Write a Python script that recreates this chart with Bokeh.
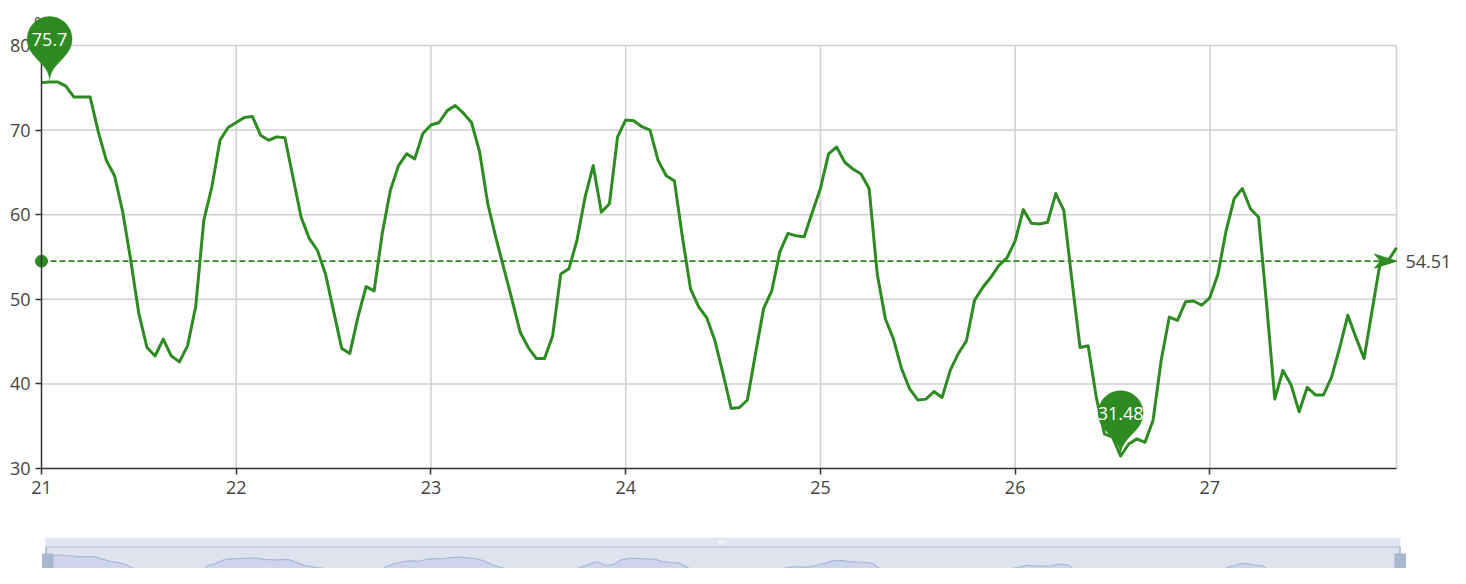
import math
import numpy as np
from bokeh.plotting import figure
from bokeh.layouts import column
from bokeh.models import Range1d, FixedTicker, PolyAnnotation, Label
from bokeh.core.properties import value
from bokeh.embed import file_html
from bokeh.resources import INLINE

# ---------------- data ----------------
hours = list(range(168))
humidity = [
    75.6, 75.7, 75.7, 75.2, 73.9, 73.9, 73.9, 69.8, 66.4, 64.6,
    60.4, 54.6, 48.3, 44.3, 43.3, 45.3, 43.3, 42.6, 44.5, 49.1,
    59.3, 63.3, 68.8, 70.3, 70.9, 71.5, 71.6, 69.4, 68.8, 69.2,
    69.1, 64.4, 59.7, 57.2, 55.8, 53.0, 48.6, 44.2, 43.6, 47.9,
    51.5, 51.0, 57.8, 62.9, 65.8, 67.2, 66.6, 69.6, 70.6, 70.9,
    72.3, 72.9, 72.0, 70.9, 67.4, 61.3, 57.3, 53.6, 49.9, 46.1,
    44.3, 43.0, 43.0, 45.7, 53.0, 53.6, 57.0, 62.1, 65.8, 60.3,
    61.3, 69.2, 71.2, 71.1, 70.4, 70.0, 66.4, 64.6, 64.0, 57.3,
    51.2, 49.1, 47.8, 45.1, 41.2, 37.1, 37.2, 38.1, 43.6, 48.9,
    51.0, 55.6, 57.8, 57.5, 57.4, 60.3, 63.1, 67.2, 68.0, 66.2,
    65.4, 64.8, 63.1, 53.0, 47.7, 45.3, 41.8, 39.4, 38.1, 38.2,
    39.1, 38.4, 41.6, 43.6, 45.1, 49.9, 51.4, 52.6, 54.0, 54.9,
    56.9, 60.6, 59.0, 58.9, 59.1, 62.5, 60.5, 52.2, 44.3, 44.5,
    38.4, 34.1, 33.7, 31.48, 32.9, 33.5, 33.1, 35.7, 42.8, 47.9,
    47.5, 49.7, 49.8, 49.3, 50.2, 53.0, 58.1, 61.9, 63.1, 60.7,
    59.7, 49.3, 38.2, 41.6, 39.9, 36.7, 39.6, 38.7, 38.7, 40.8,
    44.3, 48.1, 45.5, 43.0, 48.7, 54.4, 54.6, 56.1,
]
day_ticks = [0, 24, 48, 72, 96, 120, 144]
day_labels = ["21", "22", "23", "24", "25", "26", "27"]
y_ticks = [30, 40, 50, 60, 70, 80]
unit_label = "%"
avg_value = 54.51

# ---------------- styles ----------------
GREEN = "#2e8b22"
FONT = "Open Sans"
TXT = "#444444"
GRID = "#d0d0d0"

W = 1450
H1 = 537
AX_X = 41            # pixel column of the y axis
AX_Y = 468           # pixel row of the x axis
sx = 1355.0 / (hours[-1] - hours[0])     # px per hour
sy = 423.0 / (y_ticks[-1] - y_ticks[0])  # px per %

p = figure(width=W, height=H1, output_backend="svg", toolbar_location=None,
           x_range=Range1d(hours[0] - AX_X / sx, hours[0] + (W - AX_X) / sx),
           y_range=Range1d(y_ticks[0] - (H1 - AX_Y) / sy, y_ticks[0] + AX_Y / sy),
           min_border=0)
p.outline_line_color = None
p.grid.visible = False
p.background_fill_color = "white"
p.border_fill_color = "white"

for ax in (p.xaxis[0], p.yaxis[0]):
    ax.axis_line_color = "#333333"
    ax.axis_line_width = 1.5
    ax.major_tick_line_color = "#333333"
    ax.major_tick_line_width = 1.5
    ax.major_tick_out = 6
    ax.major_tick_in = 0
    ax.minor_tick_line_color = None
    ax.major_label_text_font = FONT
    ax.major_label_text_font_size = "18px"
    ax.major_label_text_color = TXT

p.xaxis.ticker = FixedTicker(ticks=day_ticks)
p.xaxis.major_label_overrides = {t: l for t, l in zip(day_ticks, day_labels)}
p.xaxis.bounds = (hours[0], hours[-1])
p.xaxis.major_label_standoff = 6
p.xaxis.fixed_location = y_ticks[0]
p.yaxis.ticker = FixedTicker(ticks=y_ticks)
p.yaxis.bounds = (y_ticks[0], y_ticks[-1])
p.yaxis.major_label_standoff = 5
p.yaxis.fixed_location = hours[0]

# grid lines
gy = y_ticks[1:]
p.segment(x0=[hours[0]] * len(gy), x1=[hours[-1]] * len(gy), y0=gy, y1=gy,
          line_color=GRID, line_width=1.5)
gx = day_ticks[1:] + [hours[-1]]
p.segment(x0=gx, x1=gx, y0=[y_ticks[0]] * len(gx), y1=[y_ticks[-1]] * len(gx),
          line_color=GRID, line_width=1.5)

# series
p.line(hours, humidity, line_color=GREEN, line_width=3, line_join="round")

# average mark line
p.line([hours[0], hours[-1]], [avg_value, avg_value], line_color=GREEN,
       line_width=1.6, line_dash="6 3")
p.scatter([hours[0]], [avg_value], size=12, marker="circle", fill_color=GREEN,
          line_color=GREEN)
arrow_px = [(0, 0), (-22, -7), (-16, 0), (-22, 7)]
p.patch([hours[-1] + ax_ / sx for ax_, ay_ in arrow_px],
        [avg_value - ay_ / sy for ax_, ay_ in arrow_px],
        fill_color=GREEN, line_color=GREEN, line_width=1)
p.text(x=[hours[-1] + 9 / sx], y=[avg_value], text=[f"{avg_value:.2f}"],
       text_font=value(FONT), text_font_size=value("18px"), text_color=TXT,
       text_align="left", text_baseline="middle")

# axis name (drawn under the max pin)
p.add_layout(Label(x=hours[0], y=y_ticks[-1] + 23 / sy, text=unit_label,
                   text_font=FONT, text_font_size="18px", text_color=TXT,
                   text_align="center", text_baseline="middle"))


# pins for max / min
def pin(x0, y0, w=45.0, h=75.0):
    r = w / 2
    dy = r * r / (h - r)
    cy = -h + r + dy
    ang = math.asin(dy / r)
    dx = math.cos(ang) * r
    tx, ty = math.sin(ang), math.cos(ang)
    c1, c2 = r * 0.6, r * 0.7
    pts = []
    for t in np.linspace(math.pi - ang, 2 * math.pi + ang, 60):
        pts.append((r * math.cos(t), cy + r * math.sin(t)))

    def bez(P0, P1, P2, P3, n=20):
        out = []
        for t in np.linspace(0, 1, n):
            a = (1 - t) ** 3
            b = 3 * (1 - t) ** 2 * t
            c = 3 * (1 - t) * t ** 2
            d = t ** 3
            out.append((a * P0[0] + b * P1[0] + c * P2[0] + d * P3[0],
                        a * P0[1] + b * P1[1] + c * P2[1] + d * P3[1]))
        return out
    pts += bez((dx, cy + dy), (dx - tx * c1, cy + dy + ty * c1), (0, -c2), (0, 0))
    pts += bez((0, 0), (0, -c2), (-dx + tx * c1, cy + dy + ty * c1), (-dx, cy + dy))
    xs = [float(x0 + px / sx) for px, py in pts]
    ys = [float(y0 - py / sy) for px, py in pts]
    return xs, ys, y0 - cy / sy


arr = np.array(humidity)
for idx in (int(np.argmax(arr)), int(np.argmin(arr))):
    xs, ys, ly = pin(hours[idx], humidity[idx])
    p.add_layout(PolyAnnotation(xs=xs, ys=ys, xs_units="data", ys_units="data",
                                fill_color=GREEN, fill_alpha=1.0,
                                line_color=GREEN, line_width=1))
    p.add_layout(Label(x=hours[idx], y=float(ly), text=f"{humidity[idx]:g}",
                       text_font=FONT, text_font_size="18px", text_color="white",
                       text_align="center", text_baseline="middle"))

# ---------------- data zoom slider ----------------
H2 = 568 - H1
sx2 = 1355.0 / (hours[-1] - hours[0])
lo, hi = float(arr.min()), float(arr.max())
off = (hi - lo) * 0.3
ext0, ext1 = lo - off, hi + off
body_top = 546.5
sy2 = 45.0 / (ext1 - ext0)


def wx(px):
    return (px - 45) / sx2


def wy(py):
    return ext1 - (py - body_top) / sy2


s = figure(width=W, height=H2, output_backend="svg", toolbar_location=None,
           x_range=Range1d(wx(0), wx(W)),
           y_range=Range1d(wy(H1 + H2), wy(H1)),
           min_border=0)
s.axis.visible = False
s.grid.visible = False
s.outline_line_color = None
s.background_fill_color = "white"
s.border_fill_color = "white"

s.quad(left=[wx(45)], right=[wx(1400)], top=[wy(537)], bottom=[wy(body_top)],
       fill_color="#dfe5f2", line_color=None)
s.quad(left=[wx(45)], right=[wx(1400)], top=[wy(body_top)], bottom=[wy(600)],
       fill_color="#dee3ee", line_color=None)
s.varea(x=hours, y1=[wy(600)] * len(hours), y2=humidity, fill_color="#ccd5ea")
s.line(hours, humidity, line_color="#a9b9dc", line_width=1.2)
s.segment(x0=[wx(45)], x1=[wx(1400)], y0=[wy(body_top)], y1=[wy(body_top)],
          line_color="#c3cbd9", line_width=1.5)
s.segment(x0=[wx(45.5), wx(1399.5)], x1=[wx(45.5), wx(1399.5)],
          y0=[wy(body_top)] * 2, y1=[wy(554)] * 2, line_color="#8e9db8", line_width=1)
s.quad(left=[wx(41.5), wx(1394)], right=[wx(53), wx(1405.5)], top=[wy(553)] * 2,
       bottom=[wy(600)] * 2, fill_color="#a8b8d0", line_color=None)
s.quad(left=[wx(718), wx(720.2), wx(722.4)], right=[wx(719), wx(721.2), wx(723.4)],
       top=[wy(539.5)] * 3, bottom=[wy(544)] * 3, fill_color="white", line_color=None)

layout = column(p, s, spacing=0)
open("out.html", "w").write(file_html(layout, INLINE))
